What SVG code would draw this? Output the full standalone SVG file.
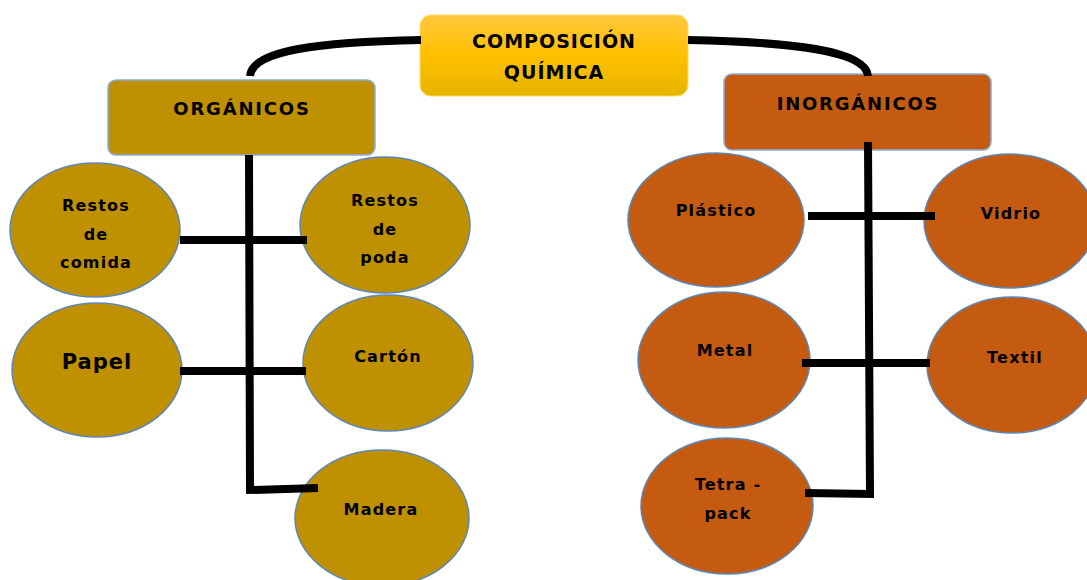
<svg xmlns="http://www.w3.org/2000/svg" width="1087" height="580" viewBox="0 0 1087 580">
<defs>
<linearGradient id="gold" x1="0" y1="0" x2="0" y2="1">
<stop offset="0" stop-color="#FFC83D"/>
<stop offset="0.5" stop-color="#FFC000"/>
<stop offset="1" stop-color="#E6B400"/>
</linearGradient>
</defs>
<style>
.org{fill:#BF9000;stroke:#5B87B8;stroke-width:1.5}
.inorg{fill:#C55A11;stroke:#5B87B8;stroke-width:1.5}
.box{stroke:#8FAADC;stroke-width:1.5}
.conn{fill:none;stroke:#000;stroke-width:8}
text{font-family:"DejaVu Sans","Liberation Sans",sans-serif;font-weight:bold;fill:#000;text-anchor:middle}
.t{font-size:16px;letter-spacing:1.2px}
.h{font-size:18px;letter-spacing:1.8px}
</style>
<rect width="1087" height="580" fill="#fff"/>
<g id="n-title">
<rect x="420" y="15" width="268" height="81" rx="11" fill="url(#gold)" stroke="#FFD966" stroke-width="1"/>
<text class="h" x="554" y="48" style="font-size:19px;letter-spacing:1px">COMPOSICIÓN</text>
<text class="h" x="554" y="79" style="font-size:19px;letter-spacing:1px">QUÍMICA</text>
</g>
<g id="n-organicos">
<rect class="box" x="108" y="80" width="267" height="75" rx="8" fill="#BF9000"/>
<text class="h" x="242" y="115">ORGÁNICOS</text>
</g>
<g id="n-inorganicos">
<rect class="box" x="724" y="74" width="267" height="76" rx="8" fill="#C55A11"/>
<text class="h" x="858" y="110">INORGÁNICOS</text>
</g>
<g id="n-comida">
<ellipse class="org" cx="95" cy="230" rx="85" ry="67"/>
<text class="t" x="96" y="211">Restos</text>
<text class="t" x="96" y="240">de</text>
<text class="t" x="96" y="268">comida</text>
</g>
<g id="n-poda">
<ellipse class="org" cx="385" cy="225" rx="85" ry="68"/>
<text class="t" x="385" y="206">Restos</text>
<text class="t" x="385" y="235">de</text>
<text class="t" x="385" y="263">poda</text>
</g>
<g id="n-papel">
<ellipse class="org" cx="97" cy="370" rx="85" ry="67"/>
<text x="97" y="369" style="font-size:21px;letter-spacing:1px">Papel</text>
</g>
<g id="n-carton">
<ellipse class="org" cx="388" cy="363" rx="85" ry="68"/>
<text class="t" x="388" y="362">Cartón</text>
</g>
<g id="n-madera">
<ellipse class="org" cx="382" cy="518" rx="87" ry="68"/>
<text class="t" x="381" y="515">Madera</text>
</g>
<g id="n-plastico">
<ellipse class="inorg" cx="716" cy="220" rx="88" ry="67"/>
<text class="t" x="716" y="216">Plástico</text>
</g>
<g id="n-vidrio">
<ellipse class="inorg" cx="1010" cy="221" rx="86" ry="67"/>
<text class="t" x="1011" y="219">Vidrio</text>
</g>
<g id="n-metal">
<ellipse class="inorg" cx="724" cy="360" rx="86" ry="68"/>
<text class="t" x="725" y="356">Metal</text>
</g>
<g id="n-textil">
<ellipse class="inorg" cx="1012" cy="365" rx="85" ry="68"/>
<text class="t" x="1015" y="363">Textil</text>
</g>
<g id="n-tetrapack">
<ellipse class="inorg" cx="727" cy="506" rx="86" ry="68"/>
<text class="t" x="728" y="490">Tetra -</text>
<text class="t" x="728" y="519">pack</text>
</g>
<g id="connectors">
<path class="conn" d="M421,40 C320,42 252,50 250,76"/>
<path class="conn" d="M688,40 C790,42 866,50 868,76"/>
<path class="conn" d="M249,155 L250,490 L318,488"/>
<path class="conn" d="M180,240 L307,240"/>
<path class="conn" d="M180,371 L306,371"/>
<path class="conn" d="M868,142 L870,494 L805,493"/>
<path class="conn" d="M808,216 L935,216"/>
<path class="conn" d="M802,363 L930,363"/>
</g>
</svg>
